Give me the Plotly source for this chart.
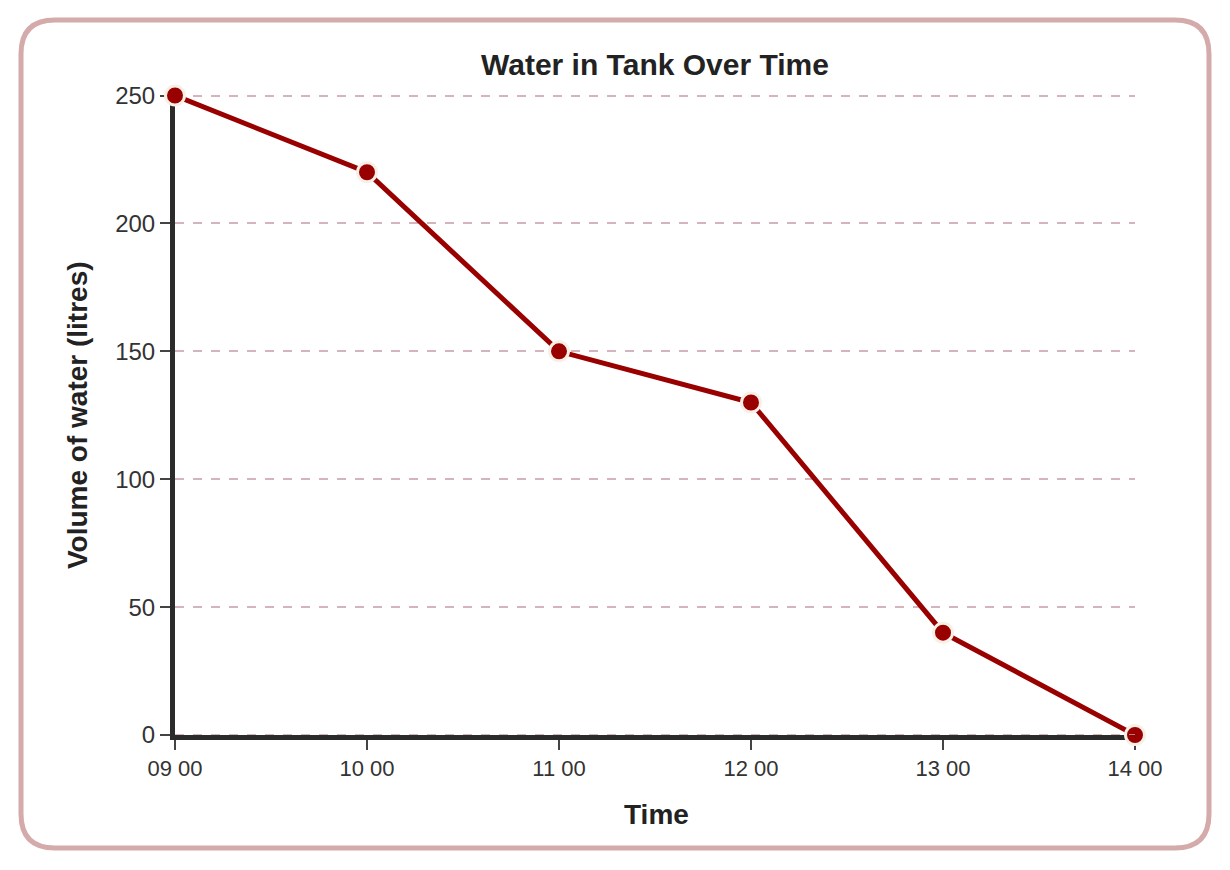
import plotly.graph_objects as go

times = ["09 00", "10 00", "11 00", "12 00", "13 00", "14 00"]
volumes = [250, 220, 150, 130, 40, 0]
y_ticks = [0, 50, 100, 150, 200, 250]

W, H = 1214, 854
L, R, T, B = 167, 1127, 86, 727

def px(x):
    return (x - L) / (R - L)

def py(y):
    return (B - y) / (B - T)

FONT = "Liberation Sans, Arial, sans-serif"

fig = go.Figure()
fig.add_trace(go.Scatter(
    x=list(range(len(times))), y=volumes, mode="lines+markers",
    line=dict(color="#990000", width=5),
    marker=dict(color="#990000", size=19, line=dict(color="#f8efe6", width=3)),
    cliponaxis=False, showlegend=False,
))

# rounded border
x0, x1, y0, y1, r = 13, 1201, 12, 840, 34
path = (f"M {px(x0+r)} {py(y0)} L {px(x1-r)} {py(y0)} Q {px(x1)} {py(y0)} {px(x1)} {py(y0+r)} "
        f"L {px(x1)} {py(y1-r)} Q {px(x1)} {py(y1)} {px(x1-r)} {py(y1)} "
        f"L {px(x0+r)} {py(y1)} Q {px(x0)} {py(y1)} {px(x0)} {py(y1-r)} "
        f"L {px(x0)} {py(y0+r)} Q {px(x0)} {py(y0)} {px(x0+r)} {py(y0)} Z")
fig.add_shape(type="path", path=path, xref="paper", yref="paper",
              line=dict(color="#d4aaaa", width=5), layer="below")

# dashed line over the zero axis
fig.add_shape(type="line", xref="paper", yref="y", x0=0, x1=1, y0=0, y1=0,
              line=dict(color="#c0a4a4", width=1.5, dash="dash"), layer="above")

# axis titles
fig.add_annotation(text="<b>Volume of water (litres)</b>", xref="paper", yref="paper",
                   x=px(69), y=py(407), xanchor="center", yanchor="middle",
                   textangle=-90, showarrow=False,
                   font=dict(family=FONT, size=28, color="#222222"))
fig.add_annotation(text="<b>Time</b>", xref="paper", yref="paper",
                   x=px(648), y=py(807), xanchor="center", yanchor="middle",
                   showarrow=False,
                   font=dict(family=FONT, size=28, color="#222222"))

fig.update_layout(
    width=W, height=H,
    margin=dict(l=L, r=W - R, t=T, b=H - B),
    paper_bgcolor="white", plot_bgcolor="white",
    font=dict(family=FONT, color="#333333"),
    title=dict(text="<b>Water in Tank Over Time</b>", xref="paper", x=0.5, xanchor="center",
               y=1 - 56 / H, yanchor="middle", font=dict(size=30, color="#222222")),
    xaxis=dict(
        tickmode="array", tickvals=list(range(len(times))), ticktext=times,
        range=[0, len(times) - 1], showgrid=False, zeroline=False,
        showline=True, linecolor="#2b2b2b", linewidth=5,
        ticks="outside", ticklen=10, tickwidth=2, tickcolor="#444444",
        tickfont=dict(family=FONT, size=22, color="#333333"), layer="below traces",
    ),
    yaxis=dict(
        tickmode="array", tickvals=y_ticks, range=[0, 250.6],
        showgrid=True, gridcolor="#d6b4bc", griddash="dash", gridwidth=1.5,
        zeroline=False,
        showline=True, linecolor="#2b2b2b", linewidth=5,
        ticks="outside", ticklen=10, tickwidth=2, tickcolor="#444444",
        tickfont=dict(family=FONT, size=24, color="#333333"), layer="below traces",
    ),
)
fig.write_html("out.html")
